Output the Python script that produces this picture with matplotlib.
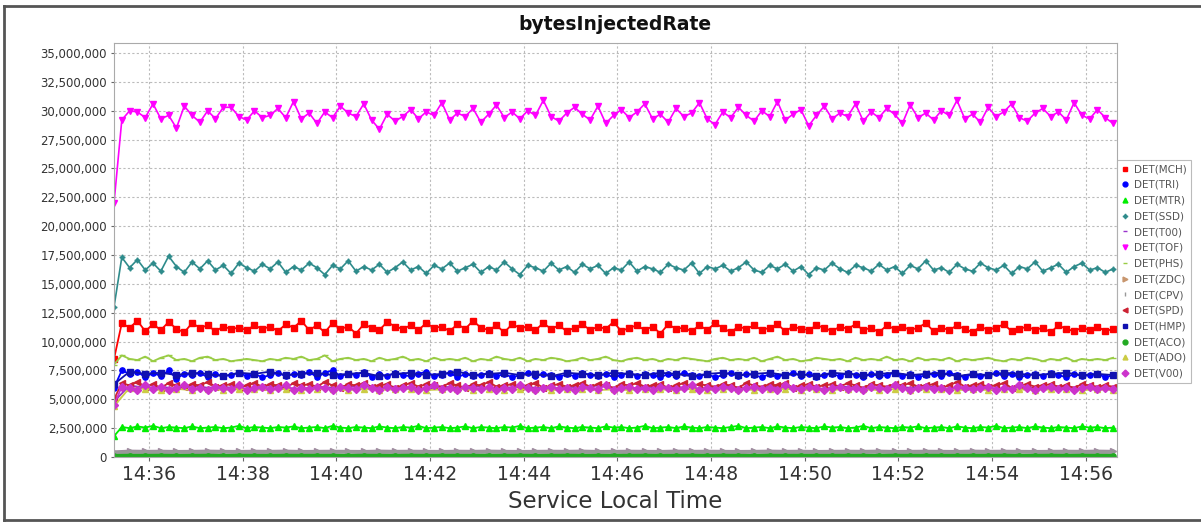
import pandas as pd
import matplotlib
matplotlib.use("Agg")
import matplotlib.pyplot as plt
import matplotlib.dates as mdates
from matplotlib.lines import Line2D

# Series values in millions of bytes/s, sampled every 10 s (fine) or 20 s (coarse)
start_time = "2020-01-01 14:35:15"
fine_step = "10s"
coarse_step = "20s"

tof = [22.0, 29.2, 30.0, 29.9, 29.4, 30.6, 29.3, 29.6, 28.5, 30.4,
       29.6, 29.0, 30.0, 29.3, 30.3, 30.3, 29.5, 29.2, 30.0, 29.4,
       29.6, 30.2, 29.4, 30.8, 29.3, 29.8, 28.9, 29.9, 29.4, 30.4,
       29.8, 29.5, 30.6, 29.2, 28.4, 29.7, 29.1, 29.5, 30.1, 29.3,
       29.9, 29.6, 30.7, 29.2, 29.8, 29.5, 30.2, 29.0, 29.7, 30.5,
       29.4, 29.9, 29.3, 30.0, 29.6, 30.9, 29.5, 29.1, 29.8, 30.3,
       29.7, 29.2, 30.4, 28.9, 29.6, 30.1, 29.4, 29.9, 30.6, 29.3,
       29.7, 29.0, 30.2, 29.5, 29.8, 30.7, 29.3, 28.8, 29.9, 29.4,
       30.3, 29.6, 29.1, 30.0, 29.5, 30.8, 29.2, 29.7, 30.1, 28.7,
       29.6, 30.4, 29.3, 29.8, 29.5, 30.6, 29.1, 29.9, 29.4, 30.2,
       29.7, 28.9, 30.5, 29.4, 29.8, 29.2, 30.0, 29.6, 30.9, 29.3,
       29.7, 29.0, 30.3, 29.5, 29.9, 30.6, 29.4, 29.1, 29.8, 30.2,
       29.5, 29.9, 29.2, 30.7, 29.6, 29.3, 30.1, 29.4, 28.9]

ssd = [13.0, 17.3, 16.4, 17.1, 16.2, 16.8, 16.1, 17.4, 16.5, 16.0,
       16.9, 16.3, 17.0, 16.2, 16.6, 15.9, 16.8, 16.4, 16.1, 16.7,
       16.3, 16.9, 16.0, 16.5, 16.2, 16.8, 16.4, 15.8, 16.6, 16.3,
       17.0, 16.1, 16.5, 16.2, 16.7, 16.0, 16.4, 16.9, 16.2, 16.5,
       15.9, 16.6, 16.3, 16.8, 16.1, 16.4, 16.7, 16.0, 16.5, 16.2,
       16.9, 16.3, 15.8, 16.6, 16.4, 16.1, 16.8, 16.2, 16.5, 16.0,
       16.7, 16.3, 16.6, 15.9, 16.4, 16.2, 16.9, 16.1, 16.5, 16.3,
       16.0, 16.7, 16.4, 16.2, 16.8, 15.9, 16.5, 16.3, 16.6, 16.1,
       16.4, 16.9, 16.2, 16.0, 16.6, 16.3, 16.7, 16.1, 16.5, 15.8,
       16.4, 16.2, 16.8, 16.3, 16.0, 16.6, 16.4, 16.1, 16.7, 16.2,
       16.5, 15.9, 16.6, 16.3, 17.0, 16.2, 16.4, 16.0, 16.7, 16.3,
       16.1, 16.8, 16.4, 16.2, 16.6, 15.9, 16.5, 16.3, 16.9, 16.1,
       16.4, 16.7, 16.0, 16.5, 16.8, 16.2, 16.4, 16.0, 16.3]

mch = [8.5, 11.6, 11.2, 11.8, 10.9, 11.5, 11.0, 11.7, 11.1, 10.8,
       11.6, 11.2, 11.4, 10.9, 11.3, 11.1, 11.2, 11.0, 11.4, 11.1,
       11.3, 10.9, 11.5, 11.2, 11.8, 11.0, 11.4, 10.8, 11.6, 11.1,
       11.3, 10.7, 11.5, 11.2, 11.0, 11.7, 11.3, 11.1, 11.4, 11.0,
       11.6, 11.2, 11.3, 10.9, 11.5, 11.1, 11.8, 11.2, 11.0, 11.4,
       10.8, 11.5, 11.2, 11.3, 11.0, 11.6, 11.1, 11.4, 10.9, 11.2,
       11.5, 11.0, 11.3, 11.1, 11.7, 10.9, 11.2, 11.4, 11.0, 11.3,
       10.7, 11.5, 11.1, 11.2, 10.9, 11.4, 11.0, 11.6, 11.2, 10.8,
       11.3, 11.1, 11.4, 11.0, 11.2, 11.5, 10.9, 11.3, 11.1, 11.0,
       11.4, 11.2, 10.9, 11.3, 11.1, 11.5, 11.0, 11.2, 10.8, 11.4,
       11.1, 11.3, 11.0, 11.2, 11.6, 10.9, 11.2, 11.0, 11.4, 11.1,
       10.8, 11.3, 11.0, 11.2, 11.5, 10.9, 11.1, 11.3, 11.0, 11.2,
       10.8, 11.4, 11.1, 10.9, 11.2, 11.0, 11.3, 10.9, 11.1]

phs = [8.0, 8.8, 8.5, 8.4, 8.7, 8.3, 8.6, 8.8, 8.4, 8.5,
       8.3, 8.6, 8.7, 8.4, 8.5, 8.3, 8.4, 8.5, 8.4, 8.3,
       8.5, 8.4, 8.6, 8.5, 8.7, 8.4, 8.5, 8.8, 8.3, 8.5,
       8.6, 8.4, 8.5, 8.3, 8.6, 8.4, 8.5, 8.7, 8.4, 8.5,
       8.3, 8.6, 8.4, 8.5, 8.4, 8.6, 8.3, 8.5, 8.4, 8.7,
       8.5, 8.4, 8.6, 8.3, 8.5, 8.4, 8.6, 8.5, 8.3, 8.4,
       8.6, 8.4, 8.5, 8.7, 8.4, 8.3, 8.5, 8.6, 8.4, 8.5,
       8.3, 8.5, 8.4, 8.6, 8.5, 8.4, 8.3, 8.5, 8.6, 8.4,
       8.5, 8.4, 8.6, 8.3, 8.5, 8.7, 8.4, 8.5, 8.3, 8.4,
       8.6, 8.5, 8.4, 8.5, 8.3, 8.6, 8.4, 8.5, 8.4, 8.7,
       8.4, 8.5, 8.3, 8.6, 8.4, 8.5, 8.4, 8.6, 8.3, 8.5,
       8.4, 8.5, 8.6, 8.4, 8.3, 8.5, 8.4, 8.6, 8.5, 8.3,
       8.5, 8.4, 8.6, 8.3, 8.5, 8.4, 8.5, 8.4, 8.6]

tri = [6.0, 7.5, 7.2, 7.4, 6.9, 7.3, 7.0, 7.5, 6.8, 7.2,
       7.1, 7.3, 6.9, 7.2, 7.0, 7.1, 7.3, 7.0, 7.2, 6.9,
       7.1, 7.3, 7.0, 7.2, 7.1, 7.4, 6.9, 7.3, 7.5, 7.0,
       7.2, 7.1, 7.4, 6.9, 7.2, 7.0, 7.3, 7.1, 7.0, 7.2,
       7.4, 7.0, 7.1, 7.3, 6.9, 7.2, 7.0, 7.1, 7.3, 7.0,
       7.2, 6.9, 7.1, 7.3, 7.0, 7.2, 7.1, 6.9, 7.2, 7.0,
       7.3, 7.1, 7.0, 7.2, 6.9, 7.1, 7.3, 7.0, 7.2, 7.1,
       6.9, 7.2, 7.0, 7.3, 7.1, 7.0, 7.2, 6.9, 7.1, 7.3,
       7.0, 7.2, 7.1, 6.9, 7.2, 7.0, 7.1, 7.3, 7.0, 7.2,
       6.9, 7.1, 7.2, 7.0, 7.3, 7.1, 6.9, 7.2, 7.0, 7.1,
       7.3, 7.0, 7.2, 6.9, 7.1, 7.2, 7.0, 7.3, 7.1, 6.9,
       7.2, 7.0, 7.1, 7.3, 7.0, 7.2, 6.9, 7.1, 7.2, 7.0,
       7.3, 7.1, 6.9, 7.2, 7.0, 7.1, 7.2, 6.9, 7.1]

mtr = [1.8, 2.6, 2.5, 2.65, 2.55, 2.7, 2.5, 2.6, 2.55, 2.5,
       2.65, 2.5, 2.55, 2.6, 2.5, 2.55, 2.7, 2.5, 2.6, 2.55,
       2.5, 2.6, 2.55, 2.65, 2.5, 2.55, 2.6, 2.5, 2.7, 2.55,
       2.5, 2.6, 2.55, 2.5, 2.65, 2.55, 2.5, 2.6, 2.55, 2.7,
       2.5, 2.55, 2.6, 2.5, 2.55, 2.65, 2.5, 2.6, 2.55, 2.5,
       2.6, 2.55, 2.7, 2.5, 2.55, 2.6, 2.5, 2.65, 2.55, 2.5,
       2.6, 2.55, 2.5, 2.65, 2.55, 2.6, 2.5, 2.55, 2.7, 2.5,
       2.55, 2.6, 2.5, 2.65, 2.55, 2.5, 2.6, 2.55, 2.5, 2.6,
       2.7, 2.5, 2.55, 2.6, 2.5, 2.65, 2.55, 2.5, 2.6, 2.55,
       2.5, 2.65, 2.55, 2.6, 2.5, 2.55, 2.7, 2.5, 2.6, 2.55,
       2.5, 2.6, 2.55, 2.65, 2.5, 2.55, 2.6, 2.5, 2.65, 2.55,
       2.5, 2.6, 2.55, 2.7, 2.5, 2.55, 2.6, 2.5, 2.65, 2.55,
       2.5, 2.6, 2.55, 2.5, 2.65, 2.55, 2.6, 2.5, 2.55]

spd = [5.0, 6.4, 6.2, 6.5, 6.1, 6.3, 6.0, 6.4, 6.2, 6.1,
       6.3, 6.2, 6.5, 6.1, 6.2, 6.3, 6.0, 6.2, 6.4, 6.1,
       6.3, 6.2, 6.0, 6.4, 6.2, 6.3, 6.1, 6.5, 6.2, 6.0,
       6.3, 6.2, 6.4, 6.1, 6.2, 6.3, 6.0, 6.2, 6.4, 6.1,
       6.3, 6.2, 6.1, 6.4, 6.2, 6.0, 6.3, 6.2, 6.5, 6.1,
       6.2, 6.3, 6.1, 6.2, 6.4, 6.0, 6.2, 6.3, 6.1, 6.2,
       6.4, 6.1, 6.3, 6.2, 6.0, 6.3, 6.2, 6.4, 6.1, 6.2,
       6.3, 6.0, 6.2, 6.4, 6.1, 6.3, 6.2, 6.1, 6.3, 6.2,
       6.0, 6.4, 6.2, 6.1, 6.3, 6.2, 6.4, 6.0, 6.2, 6.3,
       6.1, 6.2, 6.3, 6.1, 6.4, 6.2, 6.0, 6.3, 6.2, 6.1,
       6.3, 6.2, 6.4, 6.1, 6.2, 6.3, 6.0, 6.2, 6.5, 6.1,
       6.2, 6.3, 6.1, 6.2, 6.4, 6.0, 6.2, 6.3, 6.1, 6.2,
       6.3, 6.1, 6.2, 6.0, 6.3, 6.2, 6.1, 6.2, 6.1]

v00 = [4.5, 6.1, 6.0, 5.8, 6.2, 5.9, 6.1, 5.8, 6.0, 6.2,
       5.9, 6.0, 5.8, 6.1, 6.0, 5.9, 6.2, 5.8, 6.0, 6.1,
       5.9, 6.0, 6.2, 5.8, 6.0, 5.9, 6.1, 6.0, 5.8, 6.1,
       6.0, 5.9, 6.2, 6.0, 5.8, 6.1, 5.9, 6.0, 6.1, 5.8,
       6.0, 6.2, 5.9, 6.0, 5.8, 6.1, 6.0, 5.9, 6.1, 5.8,
       6.0, 5.9, 6.2, 6.0, 5.8, 6.0, 6.1, 5.9, 6.0, 5.8,
       6.1, 6.0, 5.9, 6.2, 5.8, 6.0, 6.1, 5.9, 6.0, 5.8,
       6.1, 6.0, 5.9, 6.0, 6.2, 5.8, 6.0, 5.9, 6.1, 6.0,
       5.8, 6.0, 6.1, 5.9, 6.0, 5.8, 6.2, 6.0, 5.9, 6.1,
       6.0, 5.8, 6.0, 6.1, 5.9, 6.0, 5.8, 6.1, 6.0, 5.9,
       6.2, 6.0, 5.8, 6.0, 6.1, 5.9, 6.0, 5.8, 6.1, 6.0,
       5.9, 6.0, 6.1, 5.8, 6.0, 5.9, 6.2, 6.0, 5.8, 6.0,
       6.1, 5.9, 6.0, 5.8, 6.0, 6.1, 5.9, 6.0, 5.9]

# coarse (20 s) series, mostly hidden under the others
hmp = [6.3, 7.4, 7.2, 7.3, 7.1, 7.3, 7.2, 7.0, 7.3, 7.2,
       7.4, 7.1, 7.2, 7.3, 7.1, 7.2, 7.3, 7.0, 7.2, 7.3,
       7.1, 7.2, 7.4, 7.1, 7.2, 7.3, 7.1, 7.2, 7.0, 7.3,
       7.2, 7.1, 7.3, 7.2, 7.1, 7.3, 7.2, 7.0, 7.2, 7.3,
       7.1, 7.2, 7.3, 7.1, 7.2, 7.0, 7.3, 7.2, 7.1, 7.2,
       7.3, 7.1, 7.2, 7.3, 7.0, 7.2, 7.1, 7.3, 7.2, 7.1,
       7.2, 7.3, 7.1, 7.2, 7.1]

t00 = [4.8, 6.2, 6.0, 6.1, 5.9, 6.2, 6.0, 6.1, 5.9, 6.0,
       6.2, 6.0, 5.9, 6.1, 6.0, 6.2, 5.9, 6.0, 6.1, 6.0,
       5.9, 6.1, 6.0, 6.2, 5.9, 6.0, 6.1, 6.0, 5.9, 6.1,
       6.0, 6.2, 6.0, 5.9, 6.1, 6.0, 6.1, 5.9, 6.0, 6.2,
       6.0, 5.9, 6.1, 6.0, 6.1, 5.9, 6.0, 6.1, 6.0, 5.9,
       6.1, 6.0, 6.2, 5.9, 6.0, 6.1, 6.0, 5.9, 6.1, 6.0,
       6.0, 6.1, 5.9, 6.0, 5.9]

ado = [4.4, 6.0, 5.9, 5.8, 5.9, 5.8, 5.9, 5.8, 5.9, 5.85,
       5.8, 5.9, 5.8, 5.9, 5.85, 5.8, 5.9, 5.8, 5.85, 5.9,
       5.8, 5.85, 5.9, 5.8, 5.9, 5.8, 5.85, 5.9, 5.8, 5.85,
       5.9, 5.8, 5.85, 5.8, 5.9, 5.85, 5.8, 5.9, 5.8, 5.85,
       5.9, 5.8, 5.85, 5.9, 5.8, 5.85, 5.8, 5.9, 5.85, 5.8,
       5.9, 5.8, 5.85, 5.9, 5.8, 5.85, 5.8, 5.9, 5.85, 5.8,
       5.85, 5.9, 5.8, 5.85, 5.8]

zdc = [0.45, 0.52, 0.5, 0.51, 0.49, 0.5, 0.52, 0.5, 0.49, 0.51,
       0.5, 0.52, 0.49, 0.5, 0.51, 0.5, 0.49, 0.52, 0.5, 0.51,
       0.5, 0.49, 0.51, 0.5, 0.52, 0.5, 0.49, 0.5, 0.51, 0.5,
       0.52, 0.49, 0.5, 0.51, 0.5, 0.49, 0.52, 0.5, 0.51, 0.5,
       0.49, 0.5, 0.52, 0.5, 0.51, 0.49, 0.5, 0.51, 0.5, 0.52,
       0.49, 0.5, 0.51, 0.5, 0.49, 0.52, 0.5, 0.51, 0.5, 0.49,
       0.5, 0.51, 0.5, 0.52, 0.5]

cpv = [0.38, 0.42, 0.41, 0.4, 0.42, 0.41, 0.4, 0.43, 0.41, 0.4,
       0.42, 0.41, 0.4, 0.42, 0.41, 0.43, 0.4, 0.41, 0.42, 0.4,
       0.41, 0.42, 0.4, 0.41, 0.43, 0.41, 0.4, 0.42, 0.41, 0.4,
       0.42, 0.41, 0.43, 0.4, 0.41, 0.42, 0.4, 0.41, 0.42, 0.41,
       0.4, 0.43, 0.41, 0.4, 0.42, 0.41, 0.4, 0.42, 0.41, 0.43,
       0.4, 0.41, 0.42, 0.4, 0.41, 0.42, 0.41, 0.4, 0.43, 0.41,
       0.4, 0.42, 0.41, 0.4, 0.42]

aco = [0.05, 0.07, 0.06, 0.07, 0.06, 0.06, 0.07, 0.06, 0.07, 0.06,
       0.06, 0.07, 0.06, 0.07, 0.06, 0.06, 0.07, 0.06, 0.06, 0.07,
       0.06, 0.07, 0.06, 0.06, 0.07, 0.06, 0.07, 0.06, 0.06, 0.07,
       0.06, 0.06, 0.07, 0.06, 0.07, 0.06, 0.06, 0.07, 0.06, 0.07,
       0.06, 0.06, 0.07, 0.06, 0.07, 0.06, 0.06, 0.07, 0.06, 0.06,
       0.07, 0.06, 0.07, 0.06, 0.06, 0.07, 0.06, 0.07, 0.06, 0.06,
       0.07, 0.06, 0.07, 0.06, 0.06]

# legend order: (label, values, step, color, marker, line width)
series = [
    ("DET(MCH)", mch, fine_step, "#ff0000", "s", 1.3),
    ("DET(TRI)", tri, fine_step, "#0000ff", "o", 1.3),
    ("DET(MTR)", mtr, fine_step, "#00ee00", "^", 1.3),
    ("DET(SSD)", ssd, fine_step, "#2e8b8b", (4, 1, 0), 1.2),
    ("DET(T00)", t00, coarse_step, "#9933cc", "_", 1.3),
    ("DET(TOF)", tof, fine_step, "#ff00ff", "v", 1.2),
    ("DET(PHS)", phs, fine_step, "#99cc44", "_", 1.3),
    ("DET(ZDC)", zdc, coarse_step, "#a08ca0", ">", 2.0),
    ("DET(CPV)", cpv, coarse_step, "#999999", "|", 2.5),
    ("DET(SPD)", spd, fine_step, "#cc2233", "<", 1.3),
    ("DET(HMP)", hmp, coarse_step, "#1010b0", "s", 1.3),
    ("DET(ACO)", aco, coarse_step, "#22aa22", "o", 3.5),
    ("DET(ADO)", ado, coarse_step, "#cccc44", "^", 1.3),
    ("DET(V00)", v00, fine_step, "#cc33cc", "D", 1.3),
]
legend_colors = {"DET(ZDC)": "#c8966e"}

fig = plt.figure(figsize=(12.01, 5.26), dpi=100)
ax = fig.add_axes([114 / 1201, 1 - 457 / 526, (1117 - 114) / 1201, (457 - 43) / 526])

handles = []
for label, values, step, color, marker, lw in series:
    times = pd.date_range(start_time, periods=len(values), freq=step)
    ax.plot(times, [v * 1e6 for v in values], color=color, marker=marker,
            markersize=3.8, linewidth=lw, markeredgewidth=1.0)
    handles.append(Line2D([], [], color=legend_colors.get(label, color), marker=marker,
                          linestyle="none", markersize=3.5, markeredgewidth=1.0, label=label))

ax.set_xlim(pd.Timestamp("2020-01-01 14:35:15"), pd.Timestamp("2020-01-01 14:56:40"))
ax.set_ylim(0, 35.87e6)
ax.set_yticks([i * 2.5e6 for i in range(15)])
ax.yaxis.set_major_formatter(plt.FuncFormatter(lambda v, p: f"{int(v):,}"))
ax.xaxis.set_major_locator(mdates.MinuteLocator(byminute=range(0, 60, 2)))
ax.xaxis.set_major_formatter(mdates.DateFormatter("%H:%M"))

ax.tick_params(axis="y", labelsize=8.5, labelcolor="#333333", length=2, color="#666666", pad=3)
ax.tick_params(axis="x", labelsize=13.5, labelcolor="#333333", length=3, color="#666666", pad=3)
ax.grid(True, color="#bbbbbb", linestyle=(0, (2, 2)), linewidth=0.8)
ax.set_axisbelow(True)
for sp in ax.spines.values():
    sp.set_color("#aaaaaa")
    sp.set_linewidth(0.8)

ax.set_xlabel("Service Local Time", fontsize=16.5, color="#333333", labelpad=4)
fig.text(615 / 1201, 1 - 25 / 526, "bytesInjectedRate", fontsize=13.5, fontweight="bold",
         ha="center", va="center", color="#111111")

leg = fig.legend(handles=handles, loc="upper left", bbox_to_anchor=(1117 / 1201, 1 - 160 / 526),
                 fontsize=7.5, frameon=True, fancybox=False, borderpad=0.4, labelspacing=0.55,
                 handlelength=0.8, handletextpad=0.4, borderaxespad=0)
leg.get_frame().set_edgecolor("#aaaaaa")
leg.get_frame().set_linewidth(0.8)
for t in leg.get_texts():
    t.set_color("#555555")

# window frame from the screenshot
fig.add_artist(Line2D([4 / 1201, 1.01], [1 - 6 / 526, 1 - 6 / 526], color="#555555", linewidth=2))
fig.add_artist(Line2D([4 / 1201, 1.01], [1 - 520 / 526, 1 - 520 / 526], color="#555555", linewidth=2))
fig.add_artist(Line2D([4 / 1201, 4 / 1201], [1 - 6 / 526, 1 - 520 / 526], color="#555555", linewidth=2))

fig.savefig("out.png", dpi=100)
